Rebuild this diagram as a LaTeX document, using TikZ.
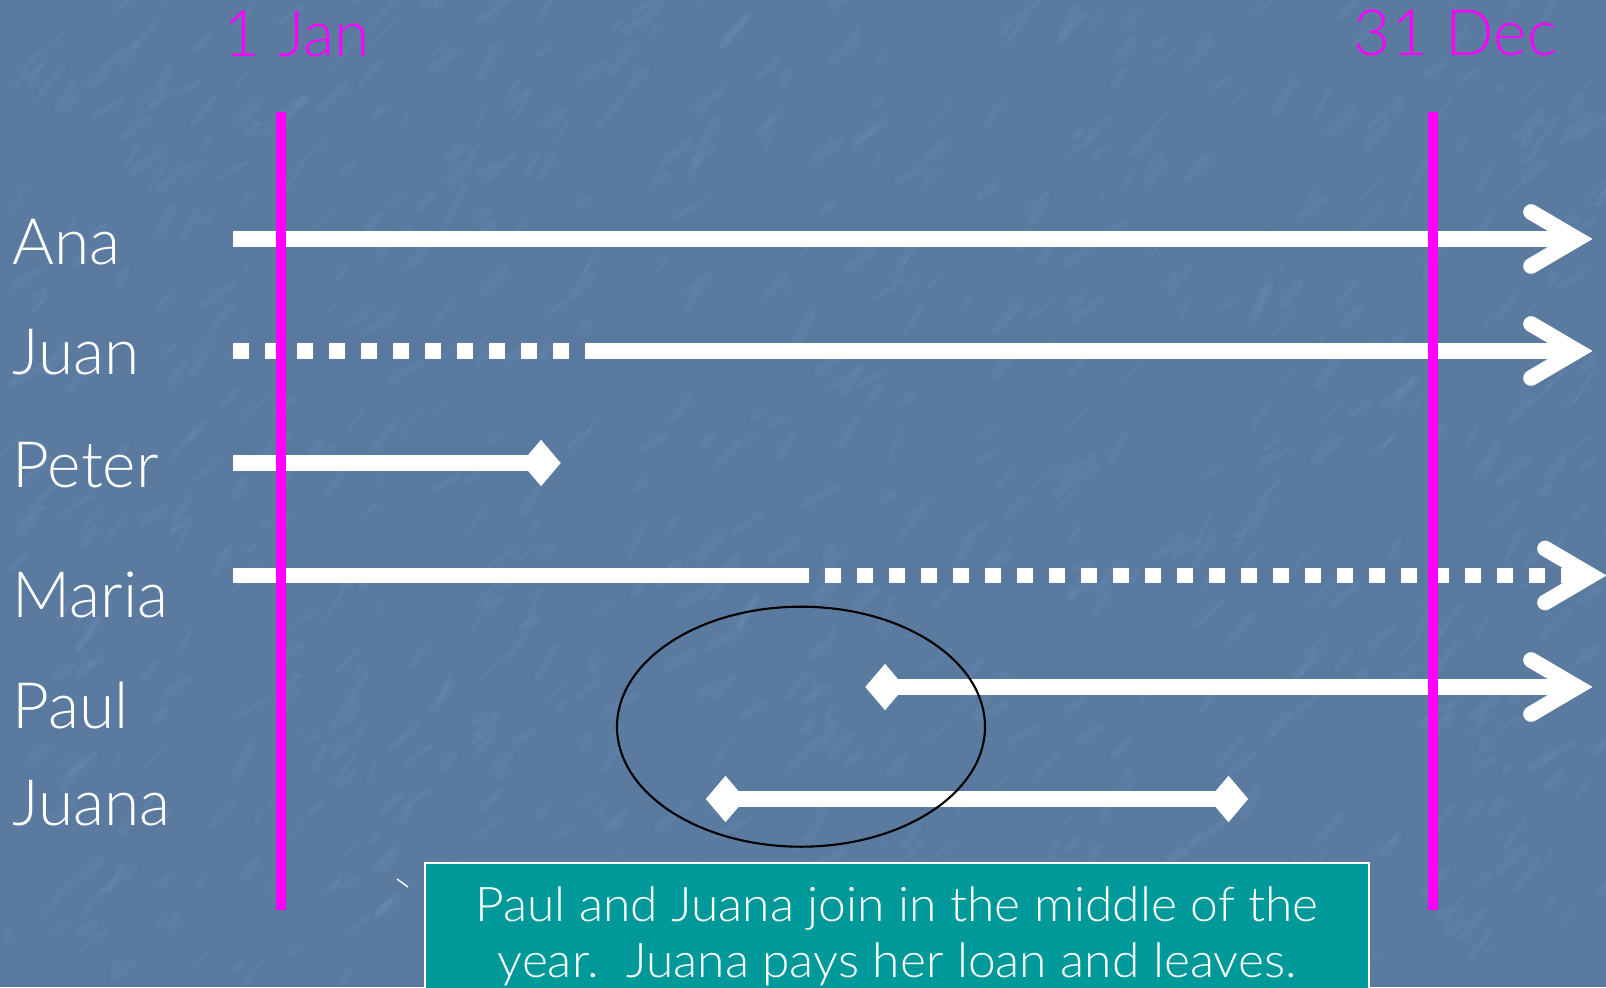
\documentclass[tikz,border=0pt]{standalone}
\usepackage{fontspec}
\setmainfont{Lato}[UprightFont={* Light}]
\newfontfamily\notefont{Lato}[UprightFont={* Light}, FakeStretch=1.04]
\usetikzlibrary{shapes.geometric}
\definecolor{bgblue}{RGB}{90,122,160}
\definecolor{streak}{RGB}{128,162,202}
\definecolor{notefill}{RGB}{0,153,153}
\definecolor{daypink}{RGB}{255,0,255}

\begin{document}
\begin{tikzpicture}[
    lane/.style={white, line width=0.157cm},
    dotlane/.style={white, line width=0.157cm, dash pattern=on 0.16cm off 0.16cm},
    chev/.style={white, line width=0.157cm, line cap=round, line join=miter},
    tipdiamond/.style={diamond, fill=white, inner sep=0pt, minimum width=0.40cm, minimum height=0.47cm},
    dayline/.style={daypink, line width=0.095cm},
    daylbl/.style={daypink, anchor=base, inner sep=0pt, font=\fontsize{18.2}{22}\selectfont},
    namelbl/.style={white, anchor=base west, inner sep=0pt, font=\fontsize{18.2}{22}\selectfont},
    notelbl/.style={white, anchor=base, inner sep=0pt, font=\notefont\fontsize{13.6}{16}\selectfont},
]
\useasboundingbox (0,0) rectangle (16.06,9.87);

% 背景
\fill[bgblue] (0,0) rectangle (16.06,9.87);
\pgfmathsetseed{2024}
\foreach \i in {1,...,800}{
    \pgfmathsetmacro{\sx}{rnd*16.06}
    \pgfmathsetmacro{\sy}{rnd*9.87}
    \pgfmathsetmacro{\sl}{0.08+0.3*rnd}
    \pgfmathsetmacro{\sw}{0.6+2*rnd}
    \pgfmathsetmacro{\sa}{30+35*rnd}
    \draw[streak, opacity=0.12, line width=\sw pt, line cap=round] (\sx,\sy) -- ++(\sa:\sl);
}

% 姓名
\node[namelbl] (ana)   at (0.12,7.22)  {Ana};
\node[namelbl] (juan)  at (0.12,6.125) {Juan};
\node[namelbl] (peter) at (0.12,4.99)  {Peter};
\node[namelbl] (maria) at (0.12,3.70)  {Maria};
\node[namelbl] (paul)  at (0.12,2.585) {Paul};
\node[namelbl] (juana) at (0.12,1.62)  {Juana};

% 端点
\coordinate (anaS) at (2.33,7.48);  \coordinate (anaE) at (15.77,7.48);
\coordinate (juanS) at (2.33,6.36); \coordinate (juanM) at (5.85,6.36); \coordinate (juanE) at (15.77,6.36);
\coordinate (peterS) at (2.33,5.24);
\coordinate (mariaS) at (2.33,4.115); \coordinate (mariaM) at (8.09,4.115);
\coordinate (mariaD) at (8.25,4.115); \coordinate (mariaE) at (15.91,4.115);
\coordinate (paulE) at (15.77,3.00);
\node[tipdiamond] (peterE) at (5.41,5.24) {};
\node[tipdiamond] (paulS)  at (8.85,3.00) {};
\node[tipdiamond] (juanaS) at (7.255,1.88) {};
\node[tipdiamond] (juanaE) at (12.285,1.88) {};

% 时间线
\draw[lane] (anaS) -- (anaE);
\draw[dotlane] (juanS) -- (juanM);
\draw[lane] (juanM) -- (juanE);
\draw[lane] (peterS) -- (peterE.center);
\draw[lane] (mariaS) -- (mariaM);
\draw[dotlane] (mariaD) -- (mariaE);
\draw[lane] (paulS.center) -- (paulE);
\draw[lane] (juanaS.center) -- (juanaE.center);

% 箭头
\draw[chev] (anaE) ++(-0.46,0.27) -- (anaE) -- ++(-0.46,-0.27);
\draw[chev] (juanE) ++(-0.46,0.27) -- (juanE) -- ++(-0.46,-0.27);
\draw[chev] (mariaE) ++(-0.46,0.27) -- (mariaE) -- ++(-0.46,-0.27);
\draw[chev] (paulE) ++(-0.46,0.27) -- (paulE) -- ++(-0.46,-0.27);

% 1 Jan 与 31 Dec
\coordinate (janT) at (2.81,8.75);  \coordinate (janB) at (2.81,0.775);
\coordinate (decT) at (14.33,8.75); \coordinate (decB) at (14.33,0.775);
\draw[dayline] (janT) -- (janB);
\draw[dayline] (decT) -- (decB);
\node[daylbl] (jan) at (2.965,9.30)  {1 Jan};
\node[daylbl] (dec) at (14.555,9.31) {31 Dec};

% 椭圆
\draw[black, line width=0.6pt] (8.01,2.603) ellipse (1.84 and 1.20);

% 说明框
\draw[white, line width=0.6pt, fill=notefill] (4.25,-0.2) rectangle (13.69,1.24);
\node[notelbl] (noteA) at (8.97,0.66)  {Paul and Juana join in the middle of the};
\node[notelbl] (noteB) at (8.97,0.093) {year.\ \ Juana pays her loan and leaves.};
\draw[white, line width=0.4pt] (3.97,1.08) -- (4.08,1.00);
\end{tikzpicture}
\end{document}
